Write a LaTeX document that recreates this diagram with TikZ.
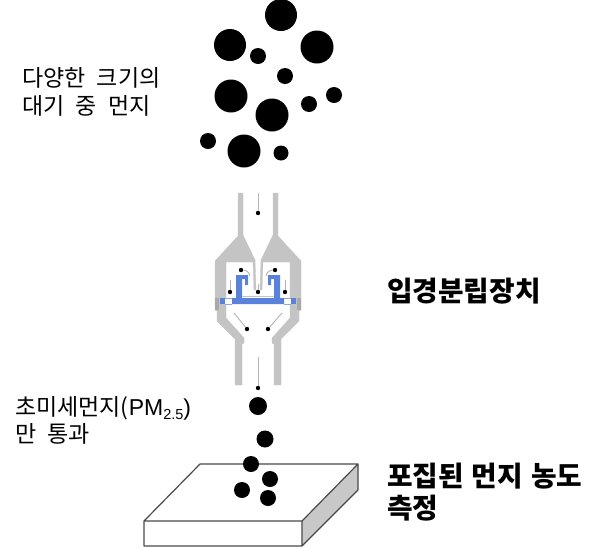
\documentclass[tikz,border=0pt]{standalone}
\usepackage{fontspec}
\setmainfont[WordSpace=2.2]{Noto Sans CJK KR}
\newfontfamily\latinf{Liberation Sans}
\definecolor{devgray}{HTML}{C4C4C4}
\definecolor{devdark}{HTML}{A9A9A9}
\definecolor{devblue}{HTML}{5A82DA}
\definecolor{flowgray}{HTML}{B4B4B4}
\definecolor{sidegray}{HTML}{C8C8C8}
\definecolor{boxline}{HTML}{4A4A4A}
\tikzset{
  dust/.style={circle,fill=black,draw=none,inner sep=0pt,minimum size=#1},
  wall/.style={fill=devgray,draw=devgray,line width=0.3pt,line join=round},
  plate/.style={fill=devblue,draw=none},
  flow/.style={draw=flowgray,line width=0.9pt},
  tipdot/.style={circle,fill=black,inner sep=0pt,minimum size=4.4pt},
  lab/.style={anchor=base west,inner sep=0pt,font=\fontsize{23}{26}\selectfont},
  blab/.style={anchor=base west,inner sep=0pt,font=\fontsize{27.8}{30}\selectfont\bfseries},
}
\newcommand{\halfdev}{%
  % upper tube and cone with room
  \path[wall] (238,193) -- (243,193) -- (243,235) -- (255,260) -- (255,262) -- (226,262) -- (226,298) -- (215,298) -- (215,261) -- (238,236) -- cycle;
  % centre pipe wall
  \path[wall] (253,262) -- (255,260) -- (256,290) -- (254,290) -- cycle;
  % flange and lower wall
  \path[wall] (215,298) -- (220,298) -- (220,304) -- (226,304) -- (226,318) -- (244,338) -- (244,343) -- (242,344) -- (242,385) -- (235,385) -- (235,339) -- (217,321) -- (217,311) -- (215,310) -- cycle;
  \path[fill=devdark] (215,298) rectangle (219,310);
  % blue plate and hook
  \path[plate] (220,298) rectangle (225,304);
  \path[plate] (232,298) -- (236,298) -- (236,275) -- (248,275) -- (248,285) -- (245,285) -- (245,279) -- (242,279) -- (242,298) -- (258,298) -- (258,304) -- (232,304) -- cycle;
  \draw[devblue!70,line width=0.5pt] (225,298) -- (232,298) (225,304) -- (232,304);
  \draw[devgray,line width=0.6pt] (242,296.5) -- (258,296.5);
}
\begin{document}
\begin{tikzpicture}[x=1pt,y=-1pt]
\useasboundingbox (0,0) rectangle (600,547);
\fill[white] (0,0) rectangle (600,547);
% airborne dust
\node[dust=32pt] (d1) at (281,15) {};
\node[dust=32pt] (d2) at (230,45) {};
\node[dust=16pt] (d3) at (258,56) {};
\node[dust=33pt] (d4) at (317,47) {};
\node[dust=16pt] (d5) at (285,76) {};
\node[dust=33pt] (d6) at (231,96) {};
\node[dust=33pt] (d7) at (272,115) {};
\node[dust=16pt] (d8) at (309,104) {};
\node[dust=16pt] (d9) at (334,95) {};
\node[dust=16pt] (d10) at (208,141) {};
\node[dust=33pt] (d11) at (244,151) {};
\node[dust=15pt] (d12) at (281,153) {};
% separator
\halfdev
\begin{scope}[shift={(516,0)},xscale=-1]
\halfdev
\end{scope}
% flow arrows
\coordinate (a1s) at (258,193); \node[tipdot] (a1e) at (258,213) {};
\draw[flow] (a1s) -- (a1e);
\coordinate (a2s) at (258,357); \node[tipdot] (a2e) at (258,388) {};
\draw[flow] (a2s) -- (a2e);
\coordinate (a3s) at (234,313); \node[tipdot] (a3e) at (247,329) {};
\draw[flow] (a3s) -- (a3e);
\coordinate (a4s) at (282,313); \node[tipdot] (a4e) at (268,329) {};
\draw[flow] (a4s) -- (a4e);
\coordinate (a5s) at (230,280); \node[tipdot] (a5e) at (230,292) {};
\draw[flow] (a5s) -- (a5e);
\coordinate (a6s) at (285,280); \node[tipdot] (a6e) at (285,292) {};
\draw[flow] (a6s) -- (a6e);
\coordinate (a7s) at (258,284); \node[tipdot] (a7e) at (258,292) {};
\draw[flow] (a7s) -- (a7e);
\coordinate (a8s) at (250,276); \node[tipdot] (a8e) at (241,270) {};
\draw[flow] (a8s) to[bend right=35] (a8e);
\coordinate (a9s) at (266,276); \node[tipdot] (a9e) at (275,270) {};
\draw[flow] (a9s) to[bend left=35] (a9e);
% lower particles
\node[dust=18pt] (p1) at (258,406) {};
\node[dust=17pt] (p2) at (265,439) {};
% filter
\coordinate (b1) at (200,464);
\coordinate (b2) at (358,464);
\coordinate (b3) at (302,521);
\coordinate (b4) at (144,521);
\coordinate (b5) at (144,546);
\coordinate (b6) at (302,546);
\coordinate (b7) at (358,490);
\path[fill=sidegray] (b2) -- (b7) -- (b6) -- (b3) -- cycle;
\draw[boxline,line width=1.2pt,line join=round] (b1) -- (b2) -- (b3) -- (b4) -- cycle (b4) -- (b5) -- (b6) -- (b3) (b6) -- (b7) -- (b2);
\node[dust=16pt] (p3) at (251,464) {};
\node[dust=16pt] (p4) at (270,479) {};
\node[dust=16pt] (p5) at (242,490) {};
\node[dust=16pt] (p6) at (268,498) {};
% labels
\node[lab] (t1) at (22,86) {다양한 크기의};
\node[lab] (t2) at (22,114) {대기 중 먼지};
\node[blab] (t3) at (387,301) {입경분립장치};
\node[lab] (t4) at (15,415) {초미세먼지({\latinf PM}\raisebox{-4pt}{\fontsize{14.5}{14.5}\selectfont\latinf 2.5}{\latinf )}};
\node[lab] (t5) at (15,442) {만 통과};
\node[blab] (t6) at (387,486) {포집된\hspace{8pt}먼지\hspace{8pt}농도};
\node[blab] (t7) at (387,518) {측정};
\end{tikzpicture}
\end{document}
